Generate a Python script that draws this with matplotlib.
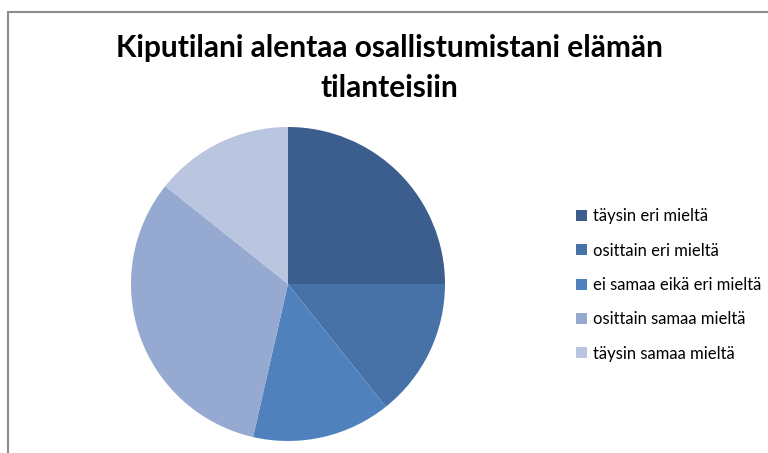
import matplotlib.pyplot as plt
from matplotlib.patches import Rectangle

# data
labels = ['täysin eri mieltä', 'osittain eri mieltä', 'ei samaa eikä eri mieltä',
          'osittain samaa mieltä', 'täysin samaa mieltä']
counts = [7, 4, 4, 9, 4]
colors = ['#3B5E8E', '#4672A8', '#4F81BD', '#95A9D1', '#BAC6E0']
title = 'Kiputilani alentaa osallistumistani elämän\ntilanteisiin'

plt.rcParams['font.family'] = ['Lato', 'DejaVu Sans']

W, H = 768, 453
fig = plt.figure(figsize=(W / 100, H / 100), dpi=100)

# chart border (left and top visible)
fig.patches.append(Rectangle((8 / W, -0.01), 1.2, (H - 12) / H + 0.01, transform=fig.transFigure,
                             fill=False, edgecolor='#8C8C8C', linewidth=1.5))

# pie axes, centre (288, 284) px, radius 157 px
cx, cy, r = 288, 284, 157
ax = fig.add_axes([(cx - r) / W, (H - cy - r) / H, 2 * r / W, 2 * r / H])
wedges, _ = ax.pie(counts, colors=colors, startangle=90, counterclock=False,
                   wedgeprops=dict(linewidth=0))
ax.set_xlim(-1, 1)
ax.set_ylim(-1, 1)
ax.set_aspect('equal')

fig.text(389 / W, 1 - 68 / H, title, ha='center', va='center', fontsize=21.5,
         fontweight='bold', linespacing=1.5)

fig.legend(wedges, labels, loc='center left', bbox_to_anchor=(561 / W, 1 - 285 / H),
           frameon=False, fontsize=12, handlelength=0.65, handleheight=0.65,
           handletextpad=0.35, labelspacing=1.1)

fig.savefig('out.png', dpi=100)
